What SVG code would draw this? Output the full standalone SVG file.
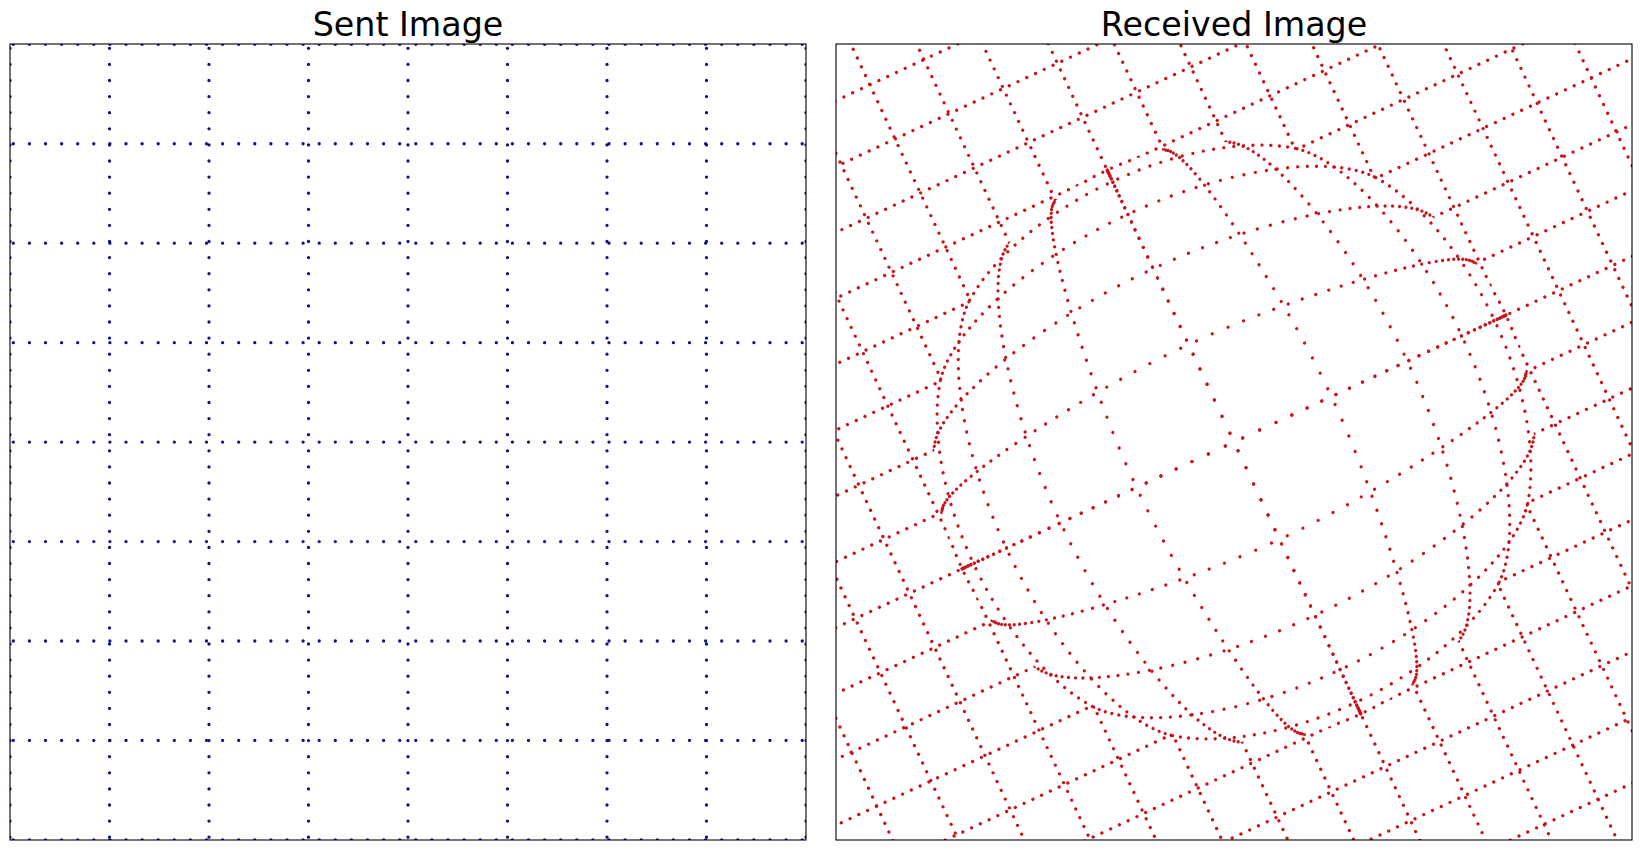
<svg xmlns="http://www.w3.org/2000/svg" width="1641" height="850" viewBox="0 0 1641 850">
<style>
.frame{fill:none;stroke:#000;stroke-width:1.1}
.title{font-family:"DejaVu Sans",sans-serif;font-size:33.3px;fill:#000;text-anchor:middle}
.bl{stroke:#10108a;stroke-width:3.3;stroke-linecap:round;stroke-dasharray:0 16.1;fill:none}
.rl{stroke:#c8141c;stroke-width:3.3;stroke-linecap:round;stroke-dasharray:0 9.66;fill:none}
.rd{fill:#c8141c}
</style>
<defs>
<clipPath id="clipL"><rect x="10" y="44" width="796" height="796"/></clipPath>
<clipPath id="clipRect"><rect x="836" y="44" width="796" height="796"/></clipPath>
<clipPath id="clipOut"><path clip-rule="evenodd" d="M836 44H1632V840H836Z M1234 142A300 300 0 1 1 1234 742A300 300 0 1 1 1234 142Z"/></clipPath>
<g id="oct">
<circle cx="0" cy="9.58" r="1.65"/><circle cx="0" cy="28.28" r="1.65"/><circle cx="0" cy="46.36" r="1.65"/><circle cx="0" cy="63.81" r="1.65"/><circle cx="0" cy="80.64" r="1.65"/><circle cx="0" cy="96.85" r="1.65"/><circle cx="0" cy="112.44" r="1.65"/><circle cx="0" cy="127.40" r="1.65"/><circle cx="0" cy="141.75" r="1.65"/><circle cx="0" cy="155.47" r="1.65"/><circle cx="0" cy="168.57" r="1.65"/><circle cx="0" cy="181.04" r="1.65"/><circle cx="0" cy="192.90" r="1.65"/><circle cx="0" cy="204.13" r="1.65"/><circle cx="0" cy="214.74" r="1.65"/><circle cx="0" cy="224.73" r="1.65"/><circle cx="0" cy="234.10" r="1.65"/><circle cx="0" cy="242.84" r="1.65"/><circle cx="0" cy="250.96" r="1.65"/><circle cx="0" cy="258.46" r="1.65"/><circle cx="0" cy="265.34" r="1.65"/><circle cx="0" cy="271.60" r="1.65"/><circle cx="0" cy="277.23" r="1.65"/><circle cx="0" cy="282.24" r="1.65"/><circle cx="0" cy="286.63" r="1.65"/><circle cx="0" cy="290.40" r="1.65"/><circle cx="0" cy="293.54" r="1.65"/><circle cx="0" cy="296.07" r="1.65"/><circle cx="0" cy="297.97" r="1.65"/><circle cx="0" cy="299.25" r="1.65"/><circle cx="0" cy="299.91" r="1.65"/>
<circle cx="107.48" cy="8.70" r="1.65"/><circle cx="107.18" cy="26.01" r="1.65"/><circle cx="106.59" cy="43.12" r="1.65"/><circle cx="105.75" cy="59.89" r="1.65"/><circle cx="104.70" cy="76.24" r="1.65"/><circle cx="103.50" cy="92.11" r="1.65"/><circle cx="102.16" cy="107.45" r="1.65"/><circle cx="100.72" cy="122.23" r="1.65"/><circle cx="99.20" cy="136.43" r="1.65"/><circle cx="97.62" cy="150.05" r="1.65"/><circle cx="95.98" cy="163.07" r="1.65"/><circle cx="94.30" cy="175.48" r="1.65"/><circle cx="92.59" cy="187.28" r="1.65"/><circle cx="90.86" cy="198.47" r="1.65"/><circle cx="89.10" cy="209.04" r="1.65"/><circle cx="87.32" cy="219.01" r="1.65"/><circle cx="85.53" cy="228.34" r="1.65"/><circle cx="83.72" cy="237.08" r="1.65"/><circle cx="81.91" cy="245.19" r="1.65"/><circle cx="80.08" cy="252.66" r="1.65"/><circle cx="78.24" cy="259.54" r="1.65"/><circle cx="76.40" cy="265.78" r="1.65"/><circle cx="74.55" cy="271.40" r="1.65"/><circle cx="72.69" cy="276.41" r="1.65"/><circle cx="70.83" cy="280.79" r="1.65"/><circle cx="68.96" cy="284.54" r="1.65"/><circle cx="67.09" cy="287.69" r="1.65"/><circle cx="65.22" cy="290.20" r="1.65"/><circle cx="63.34" cy="292.10" r="1.65"/><circle cx="61.46" cy="293.37" r="1.65"/>
<circle cx="191.24" cy="7.74" r="1.65"/><circle cx="190.93" cy="23.17" r="1.65"/><circle cx="190.31" cy="38.49" r="1.65"/><circle cx="189.42" cy="53.64" r="1.65"/><circle cx="188.22" cy="68.53" r="1.65"/><circle cx="186.78" cy="83.11" r="1.65"/><circle cx="185.11" cy="97.34" r="1.65"/><circle cx="183.22" cy="111.17" r="1.65"/><circle cx="181.13" cy="124.56" r="1.65"/><circle cx="178.86" cy="137.47" r="1.65"/><circle cx="176.45" cy="149.89" r="1.65"/><circle cx="173.89" cy="161.79" r="1.65"/><circle cx="171.22" cy="173.16" r="1.65"/><circle cx="168.44" cy="183.97" r="1.65"/><circle cx="165.55" cy="194.21" r="1.65"/><circle cx="162.58" cy="203.87" r="1.65"/><circle cx="159.54" cy="212.98" r="1.65"/><circle cx="156.43" cy="221.48" r="1.65"/><circle cx="153.26" cy="229.39" r="1.65"/><circle cx="150.04" cy="236.71" r="1.65"/><circle cx="146.77" cy="243.42" r="1.65"/><circle cx="143.46" cy="249.54" r="1.65"/><circle cx="140.10" cy="255.04" r="1.65"/><circle cx="136.71" cy="259.93" r="1.65"/><circle cx="133.30" cy="264.22" r="1.65"/><circle cx="129.85" cy="267.89" r="1.65"/><circle cx="126.38" cy="270.97" r="1.65"/><circle cx="122.88" cy="273.41" r="1.65"/>
<circle cx="251.24" cy="6.78" r="1.65"/><circle cx="250.94" cy="20.30" r="1.65"/><circle cx="250.31" cy="33.75" r="1.65"/><circle cx="249.38" cy="47.08" r="1.65"/><circle cx="248.18" cy="60.24" r="1.65"/><circle cx="246.68" cy="73.18" r="1.65"/><circle cx="244.90" cy="85.86" r="1.65"/><circle cx="242.86" cy="98.24" r="1.65"/><circle cx="240.57" cy="110.29" r="1.65"/><circle cx="238.06" cy="121.98" r="1.65"/><circle cx="235.32" cy="133.27" r="1.65"/><circle cx="232.38" cy="144.14" r="1.65"/><circle cx="229.25" cy="154.56" r="1.65"/><circle cx="225.93" cy="164.51" r="1.65"/><circle cx="222.46" cy="173.98" r="1.65"/><circle cx="218.82" cy="182.94" r="1.65"/><circle cx="215.06" cy="191.40" r="1.65"/><circle cx="211.16" cy="199.31" r="1.65"/><circle cx="207.15" cy="206.70" r="1.65"/><circle cx="203.03" cy="213.53" r="1.65"/><circle cx="198.80" cy="219.81" r="1.65"/><circle cx="194.47" cy="225.51" r="1.65"/><circle cx="190.06" cy="230.65" r="1.65"/><circle cx="185.58" cy="235.23" r="1.65"/><circle cx="181.02" cy="239.20" r="1.65"/>
<circle cx="287.47" cy="5.81" r="1.65"/><circle cx="287.16" cy="17.42" r="1.65"/><circle cx="286.56" cy="28.98" r="1.65"/><circle cx="285.63" cy="40.44" r="1.65"/><circle cx="284.39" cy="51.77" r="1.65"/><circle cx="282.86" cy="62.93" r="1.65"/><circle cx="281.07" cy="73.90" r="1.65"/><circle cx="278.97" cy="84.64" r="1.65"/><circle cx="276.60" cy="95.11" r="1.65"/><circle cx="273.97" cy="105.29" r="1.65"/><circle cx="271.09" cy="115.14" r="1.65"/><circle cx="267.96" cy="124.66" r="1.65"/><circle cx="264.59" cy="133.79" r="1.65"/><circle cx="261.01" cy="142.54" r="1.65"/><circle cx="257.24" cy="150.88" r="1.65"/><circle cx="253.25" cy="158.79" r="1.65"/><circle cx="249.07" cy="166.24" r="1.65"/><circle cx="244.70" cy="173.23" r="1.65"/><circle cx="240.19" cy="179.75" r="1.65"/>
<circle cx="299.96" cy="4.85" r="1.65"/><circle cx="299.65" cy="14.55" r="1.65"/><circle cx="299.02" cy="24.19" r="1.65"/>
</g>
</defs>
<rect x="0" y="0" width="1641" height="850" fill="#fff"/>
<g id="titles">
<text class="title" x="408" y="35.7">Sent Image</text>
<text class="title" x="1234" y="35.7">Received Image</text>
</g>
<g id="sent-grid" clip-path="url(#clipL)">
<line class="bl" x1="10" y1="48.3" x2="10" y2="837.7"/>
<line class="bl" x1="109.5" y1="48.3" x2="109.5" y2="837.7"/>
<line class="bl" x1="209" y1="48.3" x2="209" y2="837.7"/>
<line class="bl" x1="308.5" y1="48.3" x2="308.5" y2="837.7"/>
<line class="bl" x1="408" y1="48.3" x2="408" y2="837.7"/>
<line class="bl" x1="507.5" y1="48.3" x2="507.5" y2="837.7"/>
<line class="bl" x1="607" y1="48.3" x2="607" y2="837.7"/>
<line class="bl" x1="706.5" y1="48.3" x2="706.5" y2="837.7"/>
<line class="bl" x1="806" y1="48.3" x2="806" y2="837.7"/>
<line class="bl" x1="13.3" y1="44.3" x2="802.7" y2="44.3"/>
<line class="bl" x1="13.3" y1="143.75" x2="802.7" y2="143.75"/>
<line class="bl" x1="13.3" y1="243.2" x2="802.7" y2="243.2"/>
<line class="bl" x1="13.3" y1="342.65" x2="802.7" y2="342.65"/>
<line class="bl" x1="13.3" y1="442.1" x2="802.7" y2="442.1"/>
<line class="bl" x1="13.3" y1="541.55" x2="802.7" y2="541.55"/>
<line class="bl" x1="13.3" y1="641" x2="802.7" y2="641"/>
<line class="bl" x1="13.3" y1="740.45" x2="802.7" y2="740.45"/>
<line class="bl" x1="13.3" y1="839.9" x2="802.7" y2="839.9"/>
</g>
<g id="received-grid" clip-path="url(#clipRect)">
<g id="outer-lines" clip-path="url(#clipOut)">
<g transform="translate(1234 442) rotate(-25)">
<line class="rl" x1="-477.6" y1="-565.11" x2="-477.6" y2="565.6"/>
<line class="rl" x1="-417.9" y1="-565.11" x2="-417.9" y2="565.6"/>
<line class="rl" x1="-358.2" y1="-565.11" x2="-358.2" y2="565.6"/>
<line class="rl" x1="-298.5" y1="-565.11" x2="-298.5" y2="565.6"/>
<line class="rl" x1="-238.8" y1="-565.11" x2="-238.8" y2="565.6"/>
<line class="rl" x1="-179.1" y1="-565.11" x2="-179.1" y2="565.6"/>
<line class="rl" x1="-119.4" y1="-565.11" x2="-119.4" y2="565.6"/>
<line class="rl" x1="-59.7" y1="-565.11" x2="-59.7" y2="565.6"/>
<line class="rl" x1="0" y1="-565.11" x2="0" y2="565.6"/>
<line class="rl" x1="59.7" y1="-565.11" x2="59.7" y2="565.6"/>
<line class="rl" x1="119.4" y1="-565.11" x2="119.4" y2="565.6"/>
<line class="rl" x1="179.1" y1="-565.11" x2="179.1" y2="565.6"/>
<line class="rl" x1="238.8" y1="-565.11" x2="238.8" y2="565.6"/>
<line class="rl" x1="298.5" y1="-565.11" x2="298.5" y2="565.6"/>
<line class="rl" x1="358.2" y1="-565.11" x2="358.2" y2="565.6"/>
<line class="rl" x1="417.9" y1="-565.11" x2="417.9" y2="565.6"/>
<line class="rl" x1="477.6" y1="-565.11" x2="477.6" y2="565.6"/>
<line class="rl" y1="-477.6" x1="-565.11" y2="-477.6" x2="565.6"/>
<line class="rl" y1="-417.9" x1="-565.11" y2="-417.9" x2="565.6"/>
<line class="rl" y1="-358.2" x1="-565.11" y2="-358.2" x2="565.6"/>
<line class="rl" y1="-298.5" x1="-565.11" y2="-298.5" x2="565.6"/>
<line class="rl" y1="-238.8" x1="-565.11" y2="-238.8" x2="565.6"/>
<line class="rl" y1="-179.1" x1="-565.11" y2="-179.1" x2="565.6"/>
<line class="rl" y1="-119.4" x1="-565.11" y2="-119.4" x2="565.6"/>
<line class="rl" y1="-59.7" x1="-565.11" y2="-59.7" x2="565.6"/>
<line class="rl" y1="0" x1="-565.11" y2="0" x2="565.6"/>
<line class="rl" y1="59.7" x1="-565.11" y2="59.7" x2="565.6"/>
<line class="rl" y1="119.4" x1="-565.11" y2="119.4" x2="565.6"/>
<line class="rl" y1="179.1" x1="-565.11" y2="179.1" x2="565.6"/>
<line class="rl" y1="238.8" x1="-565.11" y2="238.8" x2="565.6"/>
<line class="rl" y1="298.5" x1="-565.11" y2="298.5" x2="565.6"/>
<line class="rl" y1="358.2" x1="-565.11" y2="358.2" x2="565.6"/>
<line class="rl" y1="417.9" x1="-565.11" y2="417.9" x2="565.6"/>
<line class="rl" y1="477.6" x1="-565.11" y2="477.6" x2="565.6"/>
</g>
</g>
<g id="lens-dots" class="rd" transform="translate(1234 442) rotate(-25)">
<use href="#oct"/>
<use href="#oct" transform="scale(-1 1)"/>
<use href="#oct" transform="scale(1 -1)"/>
<use href="#oct" transform="scale(-1 -1)"/>
<use href="#oct" transform="matrix(0 1 1 0 0 0)"/>
<use href="#oct" transform="matrix(0 1 -1 0 0 0)"/>
<use href="#oct" transform="matrix(0 -1 1 0 0 0)"/>
<use href="#oct" transform="matrix(0 -1 -1 0 0 0)"/>
</g>
</g>
<g id="frames">
<rect class="frame" x="10" y="44" width="796" height="796"/>
<rect class="frame" x="836" y="44" width="796" height="796"/>
</g>
</svg>
